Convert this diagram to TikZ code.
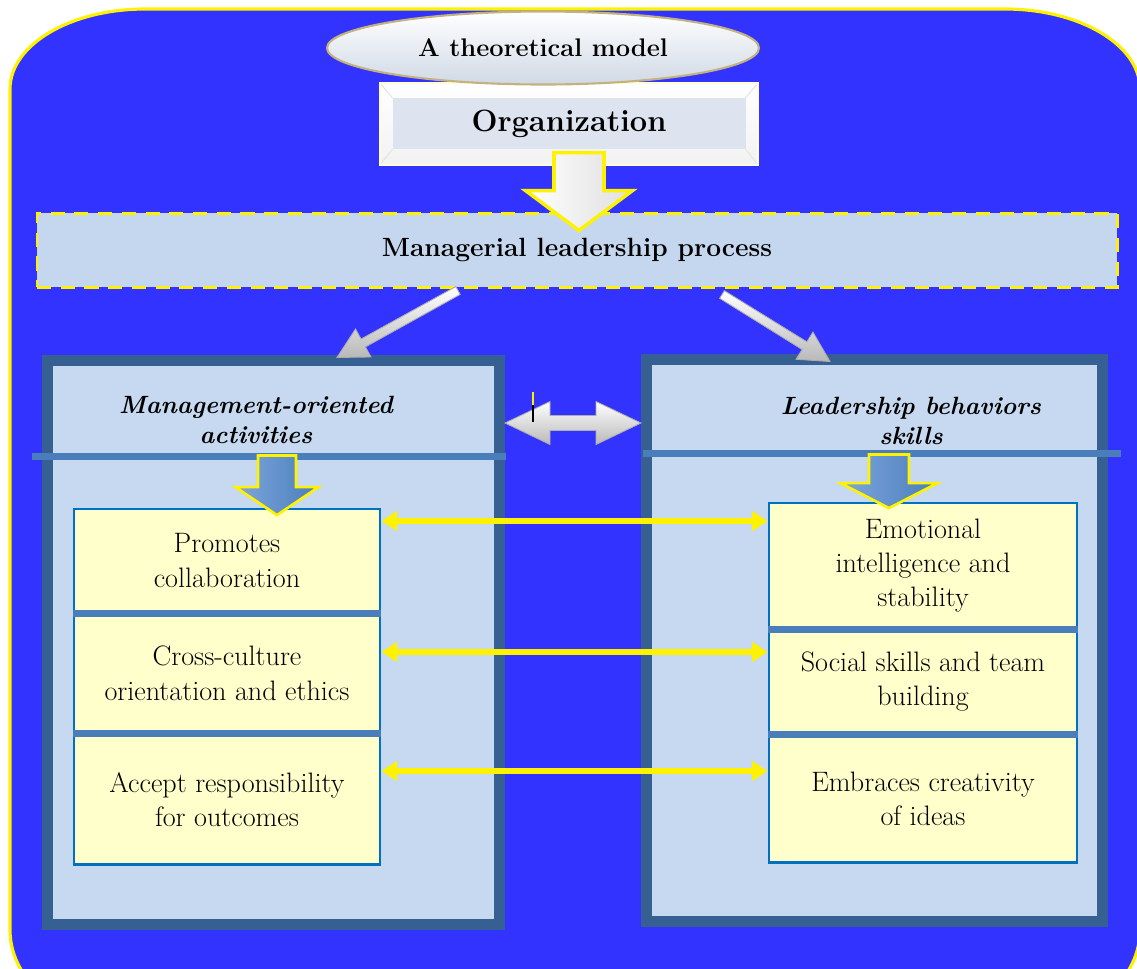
\documentclass[tikz,border=0pt]{standalone}
\usetikzlibrary{shapes, arrows.meta, positioning, calc}

\definecolor{bgblue}{RGB}{51,51,255}
\definecolor{panelfill}{RGB}{198,217,240}
\definecolor{panelline}{RGB}{55,96,146}
\definecolor{divblue}{RGB}{74,126,187}
\definecolor{itemfill}{RGB}{255,255,204}
\definecolor{itemline}{RGB}{0,112,192}
\definecolor{tanline}{RGB}{196,178,126}
\definecolor{procfill}{RGB}{197,215,238}
\definecolor{orgface}{RGB}{221,228,239}
\definecolor{ellfill}{RGB}{208,217,230}
\definecolor{lightblue}{RGB}{126,166,220}

\newcommand{\fatarrow}[6]{%
  \coordinate (fa-h) at ($(#3)!#6!(#2)$);
  \draw[#1] ($(#2)!#4!90:(#3)$) -- ($(fa-h)!#4!90:(#3)$) -- ($(fa-h)!#5!90:(#3)$) -- (#3)
    -- ($(fa-h)!#5!-90:(#3)$) -- ($(fa-h)!#4!-90:(#3)$) -- ($(#2)!#4!-90:(#3)$) -- cycle;}
\newcommand{\fatdblarrow}[6]{%
  \coordinate (fa-a) at ($(#2)!#6!(#3)$);
  \coordinate (fa-b) at ($(#3)!#6!(#2)$);
  \draw[#1] (#2) -- ($(fa-a)!#5!-90:(#3)$) -- ($(fa-a)!#4!-90:(#3)$) -- ($(fa-b)!#4!90:(#2)$)
    -- ($(fa-b)!#5!90:(#2)$) -- (#3) -- ($(fa-b)!#5!-90:(#2)$) -- ($(fa-b)!#4!-90:(#2)$)
    -- ($(fa-a)!#4!90:(#3)$) -- ($(fa-a)!#5!90:(#3)$) -- cycle;}

\begin{document}
\begin{tikzpicture}[every node/.style={font=\fontsize{16}{19.5}\selectfont},
    bgshape/.style={fill=bgblue, draw=yellow, line width=1.8pt},
    titleell/.style={ellipse, draw=tanline, line width=1.2pt, top color=white, bottom color=ellfill, minimum width=8.64cm, minimum height=1.46cm, font=\fontsize{14.5}{18}\selectfont\bfseries},
    orgbox/.style={draw=white!85!yellow, line width=0.6pt, top color=white, bottom color=white!90!gray, minimum width=7.56cm, minimum height=1.64cm, font=\fontsize{17.5}{22}\selectfont\bfseries,
        path picture={
            \fill[orgface] ($(path picture bounding box.south west)+(0.25,0.32)$) rectangle ($(path picture bounding box.north east)+(-0.25,-0.3)$);
            \draw[gray!20] (path picture bounding box.south west) -- ++(0.25,0.32) (path picture bounding box.north west) -- ++(0.25,-0.3)
                (path picture bounding box.north east) -- ++(-0.25,-0.3) (path picture bounding box.south east) -- ++(-0.25,0.32);}},
    procbox/.style={draw=yellow, line width=1.7pt, dash pattern=on 8pt off 5.5pt, fill=procfill, minimum width=21.6cm, minimum height=1.48cm, font=\fontsize{15}{19}\selectfont\bfseries},
    panel/.style={draw=panelline, line width=0.22cm, fill=panelfill},
    divline/.style={draw=divblue, line width=0.14cm},
    heading/.style={align=center, font=\fontsize{14.2}{17}\selectfont\bfseries\itshape},
    itembox/.style={draw=itemline, line width=1.6pt, fill=itemfill, minimum width=6.12cm, align=center},
    linkarrow/.style={draw=yellow, line width=3.2pt, {Triangle[length=9pt,width=11pt]}-{Triangle[length=9pt,width=11pt]}},
    whitearrow/.style={draw=yellow, line width=2pt, left color=white, right color=gray!25},
    bluearrow/.style={draw=yellow, line width=1.5pt, left color=lightblue, right color=divblue},
    silver/.style={draw=gray!65, line width=0.5pt, top color=white, bottom color=gray!55}]

    \useasboundingbox (0,0) rectangle (22.74,-19.36);
    \begin{scope}
        \clip (0,0) rectangle (22.74,-19.36);
        \draw[bgshape] (0.2,-18.6) -- (0.2,-1.78) arc[start angle=180, end angle=90, x radius=2.7cm, y radius=1.6cm]
            -- (20.1,-0.18) arc[start angle=90, end angle=0, x radius=2.7cm, y radius=1.6cm]
            -- (22.8,-18.6) arc[start angle=0, end angle=-90, x radius=2.7cm, y radius=2cm]
            -- (2.9,-20.6) arc[start angle=270, end angle=180, x radius=2.7cm, y radius=2cm] -- cycle;
    \end{scope}

    \node[orgbox] (org) at (11.38,-2.48) {Organization};
    \node[titleell] (title) at (10.86,-0.96) {A theoretical model};
    \node[procbox] (proc) at (11.54,-5.0) {Managerial leadership process};
    \coordinate (w1) at ($(org.south)+(0.2,0.26)$);
    \coordinate (w2) at ($(proc.north)+(0.04,-0.38)$);
    \fatarrow{whitearrow}{w1}{w2}{0.5cm}{1.07cm}{0.8cm}

    \node[panel, minimum width=9.04cm, minimum height=11.28cm] (mgmt) at (5.47,-12.85) {};
    \node[panel, minimum width=9.12cm, minimum height=11.24cm] (lead) at (17.49,-12.81) {};
    \draw[divline] ($(mgmt.north west)+(-0.21,-2.03)$) -- ($(mgmt.north east)+(0.01,-2.03)$);
    \draw[divline] ($(lead.north west)+(0.03,-1.99)$) -- ($(lead.north east)+(0.25,-1.99)$);
    \node[heading] (mgmthead) at ($(mgmt.north)+(-0.35,-1.29)$) {Management-oriented\\activities};
    \node[heading] (leadhead) at ($(lead.north)+(0.73,-1.33)$) {Leadership behaviors\\skills};

    \node[itembox, minimum height=2.06cm] (m1) at (4.54,-11.21) {Promotes\\collaboration};
    \node[itembox, minimum height=2.34cm, below=0cm of m1] (m2) {Cross-culture\\orientation and ethics};
    \node[itembox, minimum height=2.6cm, below=0cm of m2] (m3) {Accept responsibility\\for outcomes};
    \node[itembox, minimum width=6.16cm, minimum height=2.5cm] (l1) at (18.46,-11.31) {Emotional\\intelligence and\\stability};
    \node[itembox, minimum width=6.16cm, minimum height=2.04cm, below=0cm of l1] (l2) {Social skills and team\\building};
    \node[itembox, minimum width=6.16cm, minimum height=2.54cm, below=0cm of l2] (l3) {Embraces creativity\\of ideas};
    \draw[divline] (m1.south west) -- (m1.south east);
    \draw[divline] (m2.south west) -- (m2.south east);
    \draw[divline] (l1.south west) -- (l1.south east);
    \draw[divline] (l2.south west) -- (l2.south east);

    \coordinate (b1) at ($(mgmt.north)+(0.07,-2.01)$);
    \coordinate (b2) at ($(m1.north)+(1.0,-0.15)$);
    \coordinate (b3) at ($(lead.north)+(0.29,-2.01)$);
    \coordinate (b4) at ($(l1.north)+(-0.68,-0.13)$);
    \fatarrow{bluearrow}{b1}{b2}{0.38cm}{0.83cm}{0.56cm}
    \fatarrow{bluearrow}{b3}{b4}{0.4cm}{0.97cm}{0.5cm}

    \coordinate (y1) at (0,-10.42);
    \coordinate (y2) at (0,-13.04);
    \coordinate (y3) at (0,-15.42);
    \draw[linkarrow] (m1.east |- y1) -- (l1.west |- y1);
    \draw[linkarrow] (m2.east |- y2) -- (l2.west |- y2);
    \draw[linkarrow] (m3.east |- y3) -- (l3.west |- y3);

    \coordinate (g1) at ($(proc.south)+(-2.38,-0.04)$);
    \coordinate (g2) at ($(mgmt.north)+(1.27,-0.05)$);
    \coordinate (g3) at ($(proc.south)+(2.9,-0.12)$);
    \coordinate (g4) at ($(lead.north)+(-0.89,-0.15)$);
    \fatarrow{silver}{g1}{g2}{0.09cm}{0.32cm}{0.6cm}
    \fatarrow{silver}{g3}{g4}{0.09cm}{0.32cm}{0.6cm}

    \coordinate (d0) at (0,-8.46);
    \coordinate (d1) at (mgmt.east |- d0);
    \coordinate (d2) at (lead.west |- d0);
    \fatdblarrow{silver}{d1}{d2}{0.15cm}{0.43cm}{0.9cm}
    \draw[yellow, line width=1.4pt] (10.66,-7.84) -- (10.66,-8.1);
    \draw[black, line width=1.4pt] (10.66,-8.1) -- (10.66,-8.44);
\end{tikzpicture}
\end{document}
